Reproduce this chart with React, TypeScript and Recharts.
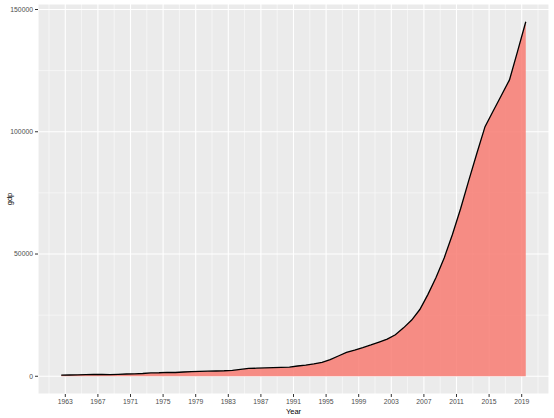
import { AreaChart, Area, XAxis, YAxis, CartesianGrid } from "recharts";

// yearly gdp
const years = [
  1962, 1963, 1964, 1965, 1966, 1967, 1968, 1969, 1970, 1971, 1972, 1973,
  1974, 1975, 1976, 1977, 1978, 1979, 1980, 1981, 1982, 1983, 1984, 1985,
  1986, 1987, 1988, 1989, 1990, 1991, 1992, 1993, 1994, 1995, 1996, 1997,
  1998, 1999, 2000, 2001, 2002, 2003, 2004, 2005, 2006, 2007, 2008, 2009,
  2010, 2011, 2012, 2013, 2014, 2015, 2016, 2017, 2018, 2019,
];

const gdp = [
  500, 520, 600, 700, 760, 730, 710, 800, 920, 1000, 1130, 1380,
  1440, 1630, 1540, 1750, 1900, 2000, 2100, 2150, 2250, 2450, 2800, 3200,
  3300, 3400, 3500, 3600, 3700, 4200, 4600, 5100, 5700, 6800, 8300, 9800,
  10700, 11700, 12800, 14000, 15200, 17000, 19800, 23000, 27300, 33500, 40500, 48500,
  58000, 68500, 80000, 91200, 102100, 108500, 114800, 121200, 133000, 145000,
];

const xTicks = [1963, 1967, 1971, 1975, 1979, 1983, 1987, 1991, 1995, 1999, 2003, 2007, 2011, 2015, 2019];
const xMinor = [1961, 1965, 1969, 1973, 1977, 1981, 1985, 1989, 1993, 1997, 2001, 2005, 2009, 2013, 2017, 2021];
const yTicks = [0, 50000, 100000, 150000];
const yMinor = [25000, 75000, 125000];

// points sit mid-year in the original plot
const data = years.map((y, i) => ({ t: y + 0.5, gdp: gdp[i] }));

const font = "'Liberation Sans', Arial, sans-serif";
const tickStyle = { fontSize: 6.8, fill: "#4D4D4D", fontFamily: font };

function YTitle(props: any) {
  const vb = props.viewBox || { x: 0, y: 4, width: 38, height: 390 };
  const cx = 12;
  const cy = vb.y + vb.height / 2;
  return (
    <text
      x={cx}
      y={cy}
      transform={`rotate(-90 ${cx} ${cy})`}
      textAnchor="middle"
      fontSize={7.5}
      fontFamily={font}
      fill="#000"
    >
      gdp
    </text>
  );
}

export default function App() {
  return (
    <div style={{ position: "absolute", left: 0, top: 0, background: "#fff" }}>
      <AreaChart
        width={554}
        height={418}
        data={data}
        margin={{ top: 4, right: 5, left: 0, bottom: 0 }}
      >
        <CartesianGrid
          fill="#EBEBEB"
          stroke="#FFFFFF"
          strokeWidth={0.5}
          horizontalValues={yMinor}
          verticalValues={xMinor}
        />
        <CartesianGrid stroke="#FFFFFF" strokeWidth={1.1} />
        <XAxis
          dataKey="t"
          type="number"
          domain={[1959.65, 2022.35]}
          ticks={xTicks}
          interval={0}
          height={24}
          axisLine={false}
          tickSize={3}
          tickMargin={2}
          tickLine={{ stroke: "#333333" }}
          tick={tickStyle}
          label={{
            value: "Year",
            position: "insideBottom",
            offset: 4,
            fontSize: 7.5,
            fill: "#000",
            fontFamily: font,
          }}
        />
        <YAxis
          type="number"
          domain={[-7250, 152250]}
          ticks={yTicks}
          interval={0}
          width={38}
          axisLine={false}
          tickSize={3}
          tickMargin={2}
          tickLine={{ stroke: "#333333" }}
          tick={tickStyle}
          label={<YTitle />}
        />
        <Area
          type="linear"
          dataKey="gdp"
          stroke="#000000"
          strokeWidth={1.3}
          fill="#F8766D"
          fillOpacity={0.82}
          isAnimationActive={false}
          dot={false}
          activeDot={false}
        />
      </AreaChart>
    </div>
  );
}
